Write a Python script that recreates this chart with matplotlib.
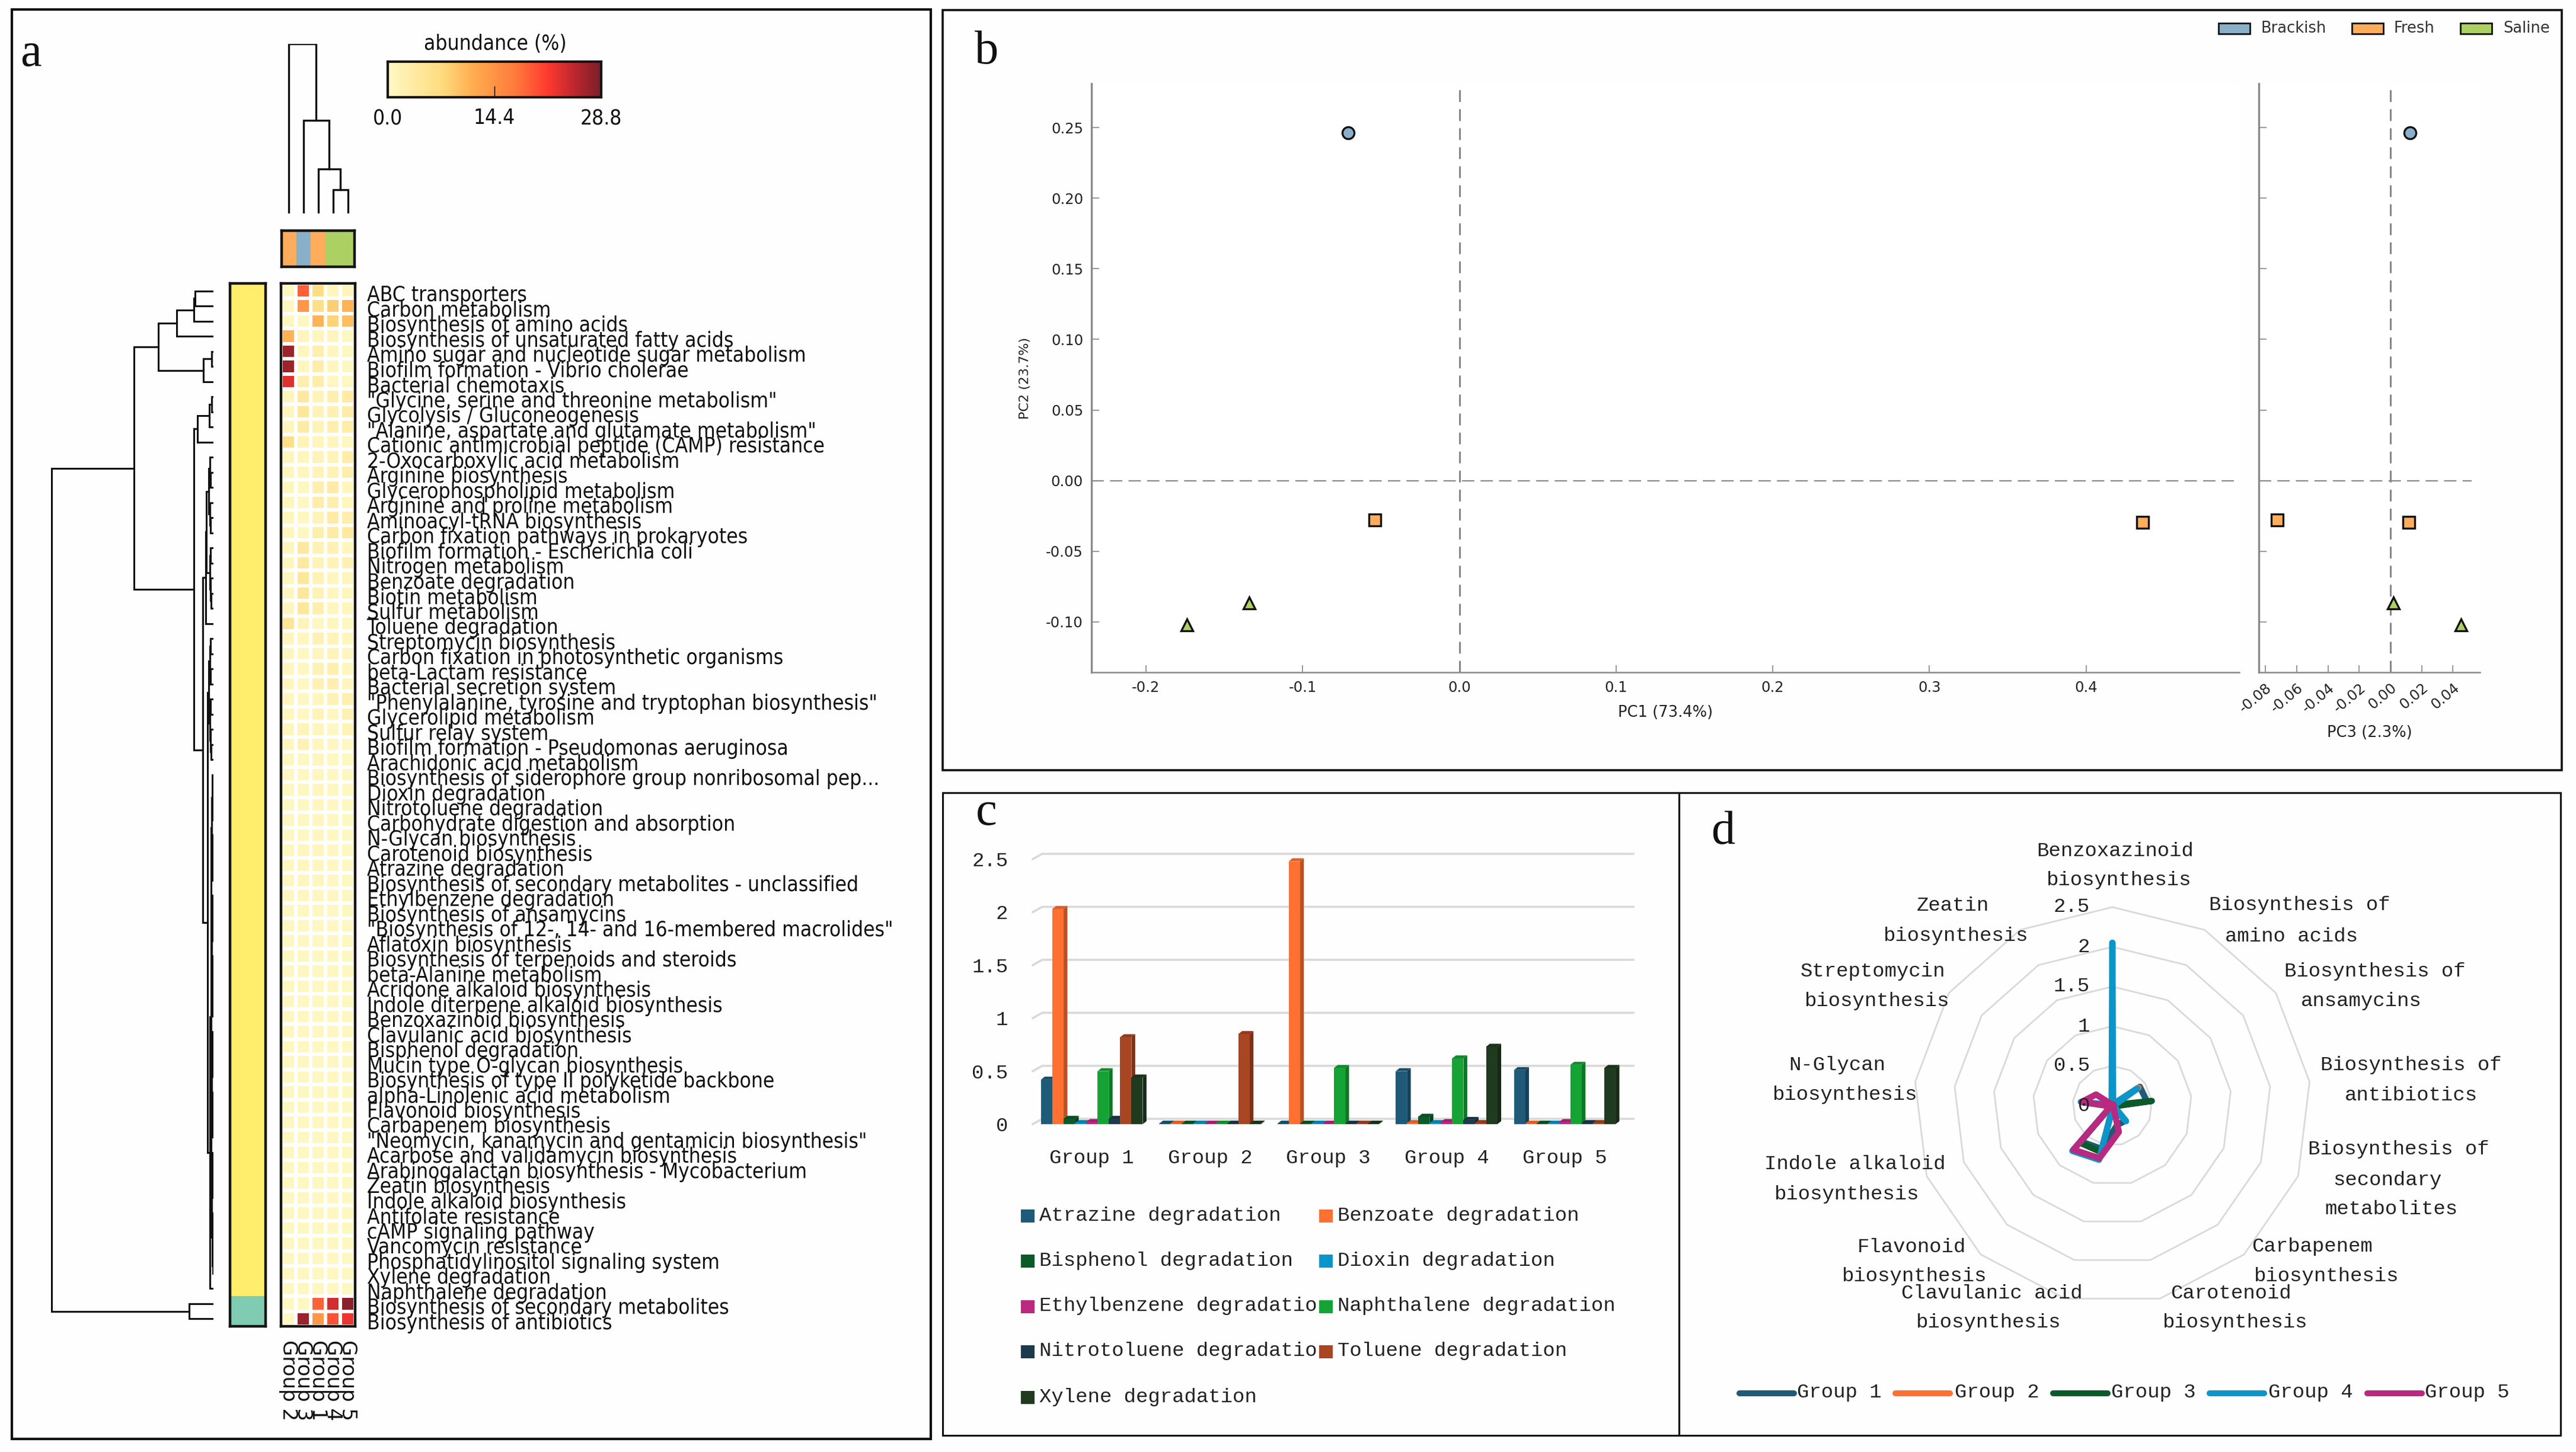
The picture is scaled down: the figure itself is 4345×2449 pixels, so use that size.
import numpy as np
import matplotlib
matplotlib.use("Agg")
import matplotlib.pyplot as plt
from matplotlib.colors import LinearSegmentedColormap
from matplotlib.patches import Rectangle
from matplotlib import font_manager as fm
from matplotlib.ticker import FormatStrFormatter

W, H = 4345, 2449

# ---------- panel a data ----------
pathways = ['ABC transporters', 'Carbon metabolism', 'Biosynthesis of amino acids',
 'Biosynthesis of unsaturated fatty acids', 'Amino sugar and nucleotide sugar metabolism',
 'Biofilm formation - Vibrio cholerae', 'Bacterial chemotaxis',
 '"Glycine, serine and threonine metabolism"', 'Glycolysis / Gluconeogenesis',
 '"Alanine, aspartate and glutamate metabolism"', 'Cationic antimicrobial peptide (CAMP) resistance',
 '2-Oxocarboxylic acid metabolism', 'Arginine biosynthesis', 'Glycerophospholipid metabolism',
 'Arginine and proline metabolism', 'Aminoacyl-tRNA biosynthesis', 'Carbon fixation pathways in prokaryotes',
 'Biofilm formation - Escherichia coli', 'Nitrogen metabolism', 'Benzoate degradation', 'Biotin metabolism',
 'Sulfur metabolism', 'Toluene degradation', 'Streptomycin biosynthesis',
 'Carbon fixation in photosynthetic organisms', 'beta-Lactam resistance', 'Bacterial secretion system',
 '"Phenylalanine, tyrosine and tryptophan biosynthesis"', 'Glycerolipid metabolism', 'Sulfur relay system',
 'Biofilm formation - Pseudomonas aeruginosa', 'Arachidonic acid metabolism',
 'Biosynthesis of siderophore group nonribosomal pep...', 'Dioxin degradation', 'Nitrotoluene degradation',
 'Carbohydrate digestion and absorption', 'N-Glycan biosynthesis', 'Carotenoid biosynthesis',
 'Atrazine degradation', 'Biosynthesis of secondary metabolites - unclassified', 'Ethylbenzene degradation',
 'Biosynthesis of ansamycins', '"Biosynthesis of 12-, 14- and 16-membered macrolides"', 'Aflatoxin biosynthesis',
 'Biosynthesis of terpenoids and steroids', 'beta-Alanine metabolism', 'Acridone alkaloid biosynthesis',
 'Indole diterpene alkaloid biosynthesis', 'Benzoxazinoid biosynthesis', 'Clavulanic acid biosynthesis',
 'Bisphenol degradation', 'Mucin type O-glycan biosynthesis', 'Biosynthesis of type II polyketide backbone',
 'alpha-Linolenic acid metabolism', 'Flavonoid biosynthesis', 'Carbapenem biosynthesis',
 '"Neomycin, kanamycin and gentamicin biosynthesis"', 'Acarbose and validamycin biosynthesis',
 'Arabinogalactan biosynthesis - Mycobacterium', 'Zeatin biosynthesis', 'Indole alkaloid biosynthesis',
 'Antifolate resistance', 'cAMP signaling pathway', 'Vancomycin resistance',
 'Phosphatidylinositol signaling system', 'Xylene degradation', 'Naphthalene degradation',
 'Biosynthesis of secondary metabolites', 'Biosynthesis of antibiotics']

heat_top = [
 [.5,19,7,1,1],[.5,14,6.5,8.5,11],[.5,.5,11,8,10],[11,1,1,1,.6],[27,.7,2.5,.7,.6],[27,.7,3,.7,.6],
 [23.5,2.5,3,.6,.6],[1,4,1.5,2.5,3.5],[1,4.5,1.5,2,3],[1,3.5,1.5,2.5,3],[6.5,1.5,1,1,.6],
 [.8,.8,1.5,1.5,3],[1,.7,1.5,1.8,2.5],[.8,.6,2.5,3.5,.8],[.8,.6,3,2.5,.8],[.8,.6,1.5,3.5,2.8],
 [.8,.6,2.5,3.5,4],[.8,4,1.8,2,.8],[.8,4,1.5,1.5,2],[.8,4.5,1.8,.8,1],[.8,4.5,1.8,.8,.8],
 [.8,4.5,2.5,.8,.8],[5,1.2,.6,.8,.6],[.7,.8,2,1.5,.8],[.7,.6,1,1.5,.7],[.7,.6,2,2.5,.7],
 [.7,.6,2,2.5,.7],[.7,.5,.7,1.8,2.2],[.7,.5,1.5,.6,2],[.7,1.5,.8,.5,1.5],[.7,1.8,.8,.5,.5]]
heat_mid = [[.6,.6,.7,.6,.6]]*6 + [[.6,.7,.7,.6,.6]]*4 + [[.5,.6,.6,.5,.5]]*26
heat_bottom = [[.3,.5,19,24,28],[.3,27,14,20,22.5]]
heat_values = np.array(heat_top + heat_mid + heat_bottom)

column_labels = ['Group 2', 'Group 3', 'Group 1', 'Group 4', 'Group 5']
column_habitat = ['Fresh', 'Brackish', 'Fresh', 'Saline', 'Saline']
row_cluster_sizes = [67, 2]
cbar_ticks = [0.0, 14.4, 28.8]

# ---------- panel b data ----------
habitats = ['Brackish', 'Fresh', 'Saline']
pc1 = {'Brackish': [-0.071], 'Fresh': [-0.054, 0.436], 'Saline': [-0.134, -0.174]}
pc2 = {'Brackish': [0.2463], 'Fresh': [-0.028, -0.0297], 'Saline': [-0.0865, -0.1023]}
pc3 = {'Brackish': [0.0125], 'Fresh': [-0.0724, 0.0116], 'Saline': [0.002, 0.0452]}

# ---------- panel c data ----------
groups = ['Group 1', 'Group 2', 'Group 3', 'Group 4', 'Group 5']
legend_c_labels = ['Atrazine degradation', 'Benzoate degradation', 'Bisphenol degradation', 'Dioxin degradation',
                'Ethylbenzene degradatio', 'Naphthalene degradation', 'Nitrotoluene degradatio',
                'Toluene degradation', 'Xylene degradation']
deg_values = [[.42, 2.03, .05, .01, .02, .50, .05, .82, .44],
              [.005, .005, .005, .005, .005, .005, .005, .85, .005],
              [.005, 2.48, .005, .005, .005, .53, .005, .005, .005],
              [.50, .01, .07, .01, .02, .62, .04, .01, .73],
              [.51, .005, .005, .005, .02, .56, .01, .01, .53]]
deg_colors = ['#1f5a78', '#ff7033', '#0b5a2a', '#0c95c9', '#b8297f', '#16a335', '#1d3a4c', '#a84522', '#1f3a1f']
c_ticks = [0, 0.5, 1, 1.5, 2, 2.5]
c_ticklabels = ['0', '0.5', '1', '1.5', '2', '2.5']

# ---------- panel d data ----------
radar_series = {
 'Group 1': [.02, .02, .42, .44, .02, .25, .25, .56, .60, .02, .02, .02, .02],
 'Group 2': [.02, .02, .40, .02, .02, .02, .02, .02, .02, .02, .02, .02, .02],
 'Group 3': [.02, .02, .02, .50, .02, .02, .02, .60, .62, .02, .02, .02, .02],
 'Group 4': [2.05, .02, .38, .02, .02, .26, .02, .70, .76, .02, .40, .02, .02],
 'Group 5': [.02, .02, .02, .02, .02, .02, .34, .68, .74, .02, .39, .25, .02]}
radar_colors = ['#1f5a78', '#ff7033', '#0b5a2a', '#0c95c9', '#b8297f']
radar_rings = [0.5, 1, 1.5, 2, 2.5]
radar_ticklabels = ['0', '0.5', '1', '1.5', '2', '2.5']

# ---------- fonts ----------
cond_path = fm.findfont(fm.FontProperties(family='DejaVu Sans', stretch='condensed'))
if 'Condensed' in cond_path:
    rowfont = dict(family='DejaVu Sans', stretch='condensed', fontsize=25.3)
else:
    rowfont = dict(family='DejaVu Sans', fontsize=22.5)
MONO = 'Liberation Mono'
SERIF = 'Liberation Serif'

fig = plt.figure(figsize=(W / 100, H / 100), dpi=100, facecolor='#fefefe')

def axpx(l, t, r, b, **kw):
    return fig.add_axes([l / W, 1 - b / H, (r - l) / W, (b - t) / H], **kw)

canvas = axpx(0, 0, W, H)
canvas.set_xlim(0, W); canvas.set_ylim(H, 0); canvas.axis('off'); canvas.set_zorder(10)

for (l, t, r, b), lw in [((20, 16, 1570, 2427), 3), ((1590, 17, 4321, 1299), 2.6),
                         ((1590, 1337, 2832, 2421), 2.2), ((2832, 1337, 4319, 2421), 2.2)]:
    canvas.add_patch(Rectangle((l, t), r - l, b - t, fill=False, ec='#111111', lw=lw))
for s, x, y in [('a', 52, 92), ('b', 1664, 88), ('c', 1664, 1371), ('d', 2906, 1403)]:
    canvas.text(x, y, s, family=SERIF, fontsize=58, ha='center', va='center', color='#111111')

# ---------- panel a ----------
cmap = LinearSegmentedColormap.from_list('abund', [(0, '#fff9c6'), (.25, '#ffdc80'), (.4, '#ffad50'),
    (.6, '#ff7a3c'), (.75, '#ff3a30'), (.87, '#c0282f'), (1, '#7a1f2a')])
axh = axpx(474, 478, 599, 2237)
axh.pcolormesh(np.arange(6), np.arange(len(pathways) + 1), heat_values, cmap=cmap, vmin=0, vmax=28.8,
               edgecolors='white', linewidth=4)
axh.set_ylim(len(pathways), 0); axh.set_xticks([]); axh.set_yticks([])
for s in axh.spines.values():
    s.set_linewidth(3.2); s.set_color('#151515')
for i, name in enumerate(pathways):
    axh.annotate(name, xy=(1, i + .5), xycoords=('axes fraction', 'data'), xytext=(20 / 1.389, -5.5),
                 textcoords='offset points', ha='left', va='center', color='#111111', **rowfont)
for i, name in enumerate(column_labels):
    axh.annotate(name, xy=(i + .5, 0), xycoords=('data', 'axes fraction'), xytext=(0, -23 / 1.389),
                 textcoords='offset points', rotation=270, ha='center', va='top', family='DejaVu Sans',
                 fontsize=24.5, color='#111111')

habitat_colors = {'Brackish': '#8aafc8', 'Fresh': '#ffad5c', 'Saline': '#add062'}
axs = axpx(475, 389, 598, 450)
for i, h in enumerate(column_habitat):
    axs.bar(i + .5, 1, width=1, color=habitat_colors[h])
axs.set_xlim(0, 5); axs.set_ylim(0, 1); axs.set_xticks([]); axs.set_yticks([])
for s in axs.spines.values():
    s.set_linewidth(3.2); s.set_color('#151515')

axr = axpx(388, 478, 448, 2237)
cluster_colors = ['#feee6b', '#80ccb3']
start = 0
for n, c in zip(row_cluster_sizes, cluster_colors):
    axr.barh(start + n / 2, 1, height=n, color=c)
    start += n
axr.set_xlim(0, 1); axr.set_ylim(len(pathways), 0); axr.set_xticks([]); axr.set_yticks([])
for s in axr.spines.values():
    s.set_linewidth(3.2); s.set_color('#151515')

axc = axpx(654, 104, 1014, 164)
axc.imshow(np.linspace(0, 28.8, 256)[None, :], cmap=cmap, aspect='auto', extent=[0, 28.8, 0, 1])
axc.set_yticks([]); axc.set_xticks(cbar_ticks, [f'{t:.1f}' for t in cbar_ticks], color='#111111', **rowfont)
axc.tick_params(axis='x', direction='in', length=14, width=1, pad=13)
for s in axc.spines.values():
    s.set_linewidth(3); s.set_color('#151515')
canvas.text(835, 74, 'abundance (%)', ha='center', va='center', color='#111111', **rowfont)

# dendrograms: node = (height, child, child), leaf = index
def balanced(rows, h):
    if len(rows) == 1:
        return rows[0]
    m = len(rows) // 2
    return (h, balanced(rows[:m], h * .78), balanced(rows[m:], h * .78))

def draw_tree(ax, node, horizontal, lw):
    if not isinstance(node, tuple):
        return node + .5, 0
    h, a, b = node
    pa, ha = draw_tree(ax, a, horizontal, lw)
    pb, hb = draw_tree(ax, b, horizontal, lw)
    xs, ys = [ha, h, h, hb], [pa, pa, pb, pb]
    if horizontal:
        ax.plot(xs, ys, color='#111111', lw=lw, solid_joinstyle='miter')
    else:
        ax.plot(ys, xs, color='#111111', lw=lw, solid_joinstyle='miter')
    return (pa + pb) / 2, h

E = (31, 0, 1); D = (33, E, 2); B = (62, D, 3)
C = (17, (3, 4, 5), 6); A1 = (93, B, C)
G = (27, (7, (3, 7, 8), 9), 10)
K = (12, balanced(list(range(11, 17)), 8), balanced(list(range(17, 22)), 6))
I = (13, K, 22)
L = balanced(list(range(23, 32)), 8)
M = (6.5, balanced(list(range(32, 66)), 4.5), 66)
J = (10, L, M)
A2 = (33, G, (18, I, J))
row_tree = (273, (134, A1, A2), (41, 67, 68))
axd = axpx(20, 478, 360, 2237)
axd.set_xlim(340, 0); axd.set_ylim(len(pathways), 0); axd.axis('off')
draw_tree(axd, row_tree, True, 2.2)

col_tree = (286, 0, (157, 1, (75, 2, (40, 3, 4))))
axt = axpx(474, 74, 599, 360)
axt.set_xlim(0, 5); axt.set_ylim(0, 286); axt.axis('off')
draw_tree(axt, col_tree, False, 2.4)

# ---------- panel b ----------
markers = {'Brackish': 'o', 'Fresh': 's', 'Saline': '^'}
GREY = '#888888'
ax1 = axpx(1841, 141, 3777, 1134)
ax2 = axpx(3810, 141, 4183, 1134)
for ax, xs in ((ax1, pc1), (ax2, pc3)):
    ax.axvline(0, color=GREY, lw=2.2, ls=(0, (6.5, 4)), zorder=1)
    for h in habitats:
        ax.plot(xs[h], pc2[h], ls='none', marker=markers[h], ms=14.5, mfc=habitat_colors[h], mec='#111111',
                mew=2.4, zorder=3)
    ax.set_ylim(-0.1357, 0.2811)
    ax.spines[['top', 'right']].set_visible(False)
    for s in ('left', 'bottom'):
        ax.spines[s].set_color(GREY)
    ax.spines['left'].set_linewidth(2.4); ax.spines['bottom'].set_linewidth(1.8)
    ax.set_yticks([-.10, -.05, 0, .05, .10, .15, .20, .25])
    ax.tick_params(direction='in', length=9, width=1.2, color=GREY, labelsize=17.5, labelcolor='#222222', pad=10)
ax1.axhline(0, color=GREY, lw=1.5, ls=(0, (10, 5)), zorder=1)
ax2.axhline(0, xmax=.962, color=GREY, lw=1.5, ls=(0, (10, 5)), zorder=1)
ax1.set_xlim(-0.2348, 0.4977); ax1.set_xticks([-.2, -.1, 0, .1, .2, .3, .4])
ax1.xaxis.set_major_formatter(FormatStrFormatter('%.1f'))
ax1.yaxis.set_major_formatter(FormatStrFormatter('%.2f'))
ax1.set_xlabel('PC1 (73.4%)', fontsize=18.5, labelpad=12, color='#222222')
ax1.set_ylabel('PC2 (23.7%)', fontsize=16, labelpad=18, color='#222222')
ax2.set_xlim(-0.0842, 0.0573); ax2.set_xticks([-.08, -.06, -.04, -.02, 0, .02, .04])
ax2.xaxis.set_major_formatter(FormatStrFormatter('%.2f'))
ax2.tick_params(axis='y', labelleft=False)
ax2.tick_params(axis='x', labelrotation=40)
for t in ax2.get_xticklabels():
    t.set_ha('right'); t.set_rotation_mode('anchor')
ax2.set_xlabel('PC3 (2.3%)', fontsize=18.5, labelpad=12, color='#222222')
for h, x, tx in zip(habitats, [3742, 3967, 4150], [3813, 4037, 4222]):
    canvas.add_patch(Rectangle((x, 39), 53, 18, fc=habitat_colors[h], ec='#111111', lw=2))
    canvas.text(tx, 48, h, fontsize=18.5, va='center', ha='left', color='#333333')

# ---------- panel c ----------
axb = axpx(1742, 1449, 2739, 1896)
w, dx, dy = 0.0956, 0.032, 0.028
def shade(c, f):
    return tuple(v * f for v in matplotlib.colors.to_rgb(c))
for t in c_ticks:
    axb.plot([-.5, -.42, 4.58], [t, t + .05, t + .05], color='#d9d9d9', lw=2.6, clip_on=False, zorder=1,
             solid_joinstyle='miter')
for i, vals in enumerate(deg_values):
    for j, v in enumerate(vals):
        x0 = i + (j - 4.5) * w
        col = deg_colors[j]
        axb.bar(x0, v, width=w, align='edge', color=col, zorder=3 + j * .1, clip_on=False)
        axb.fill([x0 + w, x0 + w + dx, x0 + w + dx, x0 + w], [0, dy, v + dy, v], color=shade(col, .72),
                 zorder=2.9 + j * .1, clip_on=False, lw=0)
        axb.fill([x0, x0 + dx, x0 + w + dx, x0 + w], [v, v + dy, v + dy, v], color=shade(col, .85),
                 zorder=2.95 + j * .1, clip_on=False, lw=0)
axb.set_xlim(-.5, 4.5); axb.set_ylim(0, 2.5)
axb.patch.set_visible(False)
for s in axb.spines.values():
    s.set_visible(False)
axb.set_xticks(range(5), groups, family=MONO, fontsize=24.5, color='#222222')
axb.set_yticks(c_ticks, c_ticklabels, family=MONO, fontsize=24.5, color='#222222')
axb.tick_params(length=0)
axb.tick_params(axis='x', pad=30)
axb.tick_params(axis='y', pad=30)
lx = [1722, 2225]
ly = [2051, 2127, 2204, 2280, 2357]
for k, (lab, col) in enumerate(zip(legend_c_labels, deg_colors)):
    x, y = lx[k % 2], ly[k // 2]
    canvas.add_patch(Rectangle((x, y - 11), 23, 22, fc=col, ec='none'))
    canvas.text(x + 31, y - 1, lab, family=MONO, fontsize=24.5, va='center', ha='left', color='#222222')

# ---------- panel d ----------
axp = axpx(3228, 1530, 3898, 2200, projection='polar')
axp.set_theta_zero_location('N'); axp.set_theta_direction(-1)
n_cat = 13
theta = np.linspace(0, 2 * np.pi, n_cat, endpoint=False)
closed = np.r_[theta, theta[0]]
for r in radar_rings:
    axp.plot(closed, [r] * (n_cat + 1), color='#d9d9d9', lw=2, clip_on=False, zorder=1)
for (name, vals), col in zip(radar_series.items(), radar_colors):
    axp.plot(closed, vals + vals[:1], color=col, lw=7.6, solid_joinstyle='round', solid_capstyle='round',
             clip_on=False, zorder=3)
axp.set_rlim(0, 2.5); axp.axis('off')
for r, lab in zip([0] + radar_rings, radar_ticklabels):
    axp.annotate(lab, xy=(0, r), xytext=(-38 / 1.389, 0), textcoords='offset points', family=MONO, fontsize=24.5,
                 ha='right', va='center', color='#222222', annotation_clip=False, zorder=5)
radar_labels = [('Benzoxazinoid', 3568, 1435), ('biosynthesis', 3574, 1485),
 ('Biosynthesis of', 3879, 1527), ('amino acids', 3865, 1579),
 ('Biosynthesis of', 4006, 1639), ('ansamycins', 3983, 1689),
 ('Biosynthesis of', 4067, 1796), ('antibiotics', 4067, 1847),
 ('Biosynthesis of', 4046, 1939), ('secondary', 4027, 1990), ('metabolites', 4033, 2040),
 ('Carbapenem', 3900, 2103), ('biosynthesis', 3924, 2153),
 ('Carotenoid', 3763, 2181), ('biosynthesis', 3770, 2231),
 ('Clavulanic acid', 3360, 2181), ('biosynthesis', 3354, 2231),
 ('Flavonoid', 3224, 2103), ('biosynthesis', 3229, 2153),
 ('Indole alkaloid', 3129, 1963), ('biosynthesis', 3115, 2014),
 ('N-Glycan', 3099, 1796), ('biosynthesis', 3112, 1847),
 ('Streptomycin', 3159, 1639), ('biosynthesis', 3166, 1689),
 ('Zeatin', 3294, 1528), ('biosynthesis', 3299, 1579)]
for s, x, y in radar_labels:
    canvas.text(x, y, s, family=MONO, fontsize=24.5, ha='center', va='center', color='#222222')
for name, col, x0, tx in zip(radar_series, radar_colors, [2934, 3197, 3463, 3727, 3993], [3031, 3297, 3561, 3826, 4090]):
    canvas.plot([x0, x0 + 92], [2350, 2350], color=col, lw=7.2, solid_capstyle='round')
    canvas.text(tx, 2349, name, family=MONO, fontsize=24.5, ha='left', va='center', color='#222222')

fig.savefig('out.png', dpi=100, facecolor=fig.get_facecolor())
